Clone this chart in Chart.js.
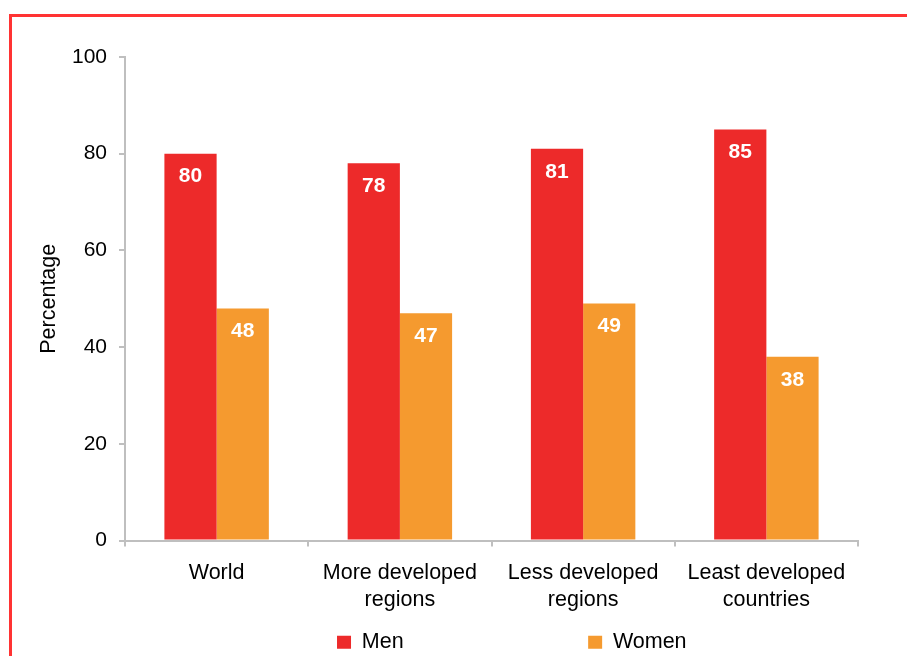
<!DOCTYPE html>
<html><head><meta charset="utf-8">
<script src="https://cdn.jsdelivr.net/npm/chart.js@4"></script>
<style>
html,body{margin:0;padding:0;background:#fff;overflow:hidden;}
#frame{position:absolute;left:9px;top:14px;width:1200px;height:1200px;border-top:3px solid #f33;border-left:3px solid #f33;box-sizing:border-box;}
#wrap{position:absolute;left:0;top:0;width:907px;height:663px;}
</style></head><body>
<div id="frame"></div>
<div id="wrap"><canvas id="c"></canvas></div>
<script>
// ---- data ----
const categories = [["World"], ["More developed", "regions"], ["Less developed", "regions"], ["Least developed", "countries"]];
const seriesNames = ["Men", "Women"];
const menValues = [80, 78, 81, 85];
const womenValues = [48, 47, 49, 38];
const yTickLabels = [0, 20, 40, 60, 80, 100];
const yAxisTitle = "Percentage";

// ---- styles ----
const FONT = '"Liberation Sans", Arial, sans-serif';
const colors = ["#ED2A2A", "#F59A2F"];
const axisColor = "#bfbfbf";
Chart.defaults.font.family = FONT;
Chart.defaults.color = "#000";

const FONT_SIZE = 21.5;
const measureCtx = document.createElement('canvas').getContext('2d');
measureCtx.font = FONT_SIZE + 'px ' + FONT;
function tw(s) { return measureCtx.measureText(s).width; }

const LEGEND_PAD = 10, BOX_W = 14;
const menBoxX = 337, womenBoxX = 588;

function spacerText(width) {
  const sw = tw(' '), hw = tw('\u200A');
  let best = ' ', bestErr = Infinity;
  for (let n = 0; n <= Math.ceil(width / sw) + 1; n++) {
    const rest = width - n * sw;
    let m = 0;
    if (hw > 0.3 && hw < sw && rest > 0) m = Math.round(rest / hw);
    const s = ' '.repeat(n) + '\u200A'.repeat(m);
    if (!s.length) continue;
    const err = Math.abs(tw(s) - width);
    if (err < bestErr) { bestErr = err; best = s; }
  }
  return best;
}
function spacer(text) {
  return { text, fillStyle: 'rgba(0,0,0,0)', strokeStyle: 'rgba(0,0,0,0)', lineWidth: 0, hidden: false, fontColor: 'rgba(0,0,0,0)' };
}

const barValueLabels = {
  id: 'barValueLabels',
  afterDatasetsDraw(chart) {
    const ctx = chart.ctx;
    ctx.save();
    ctx.font = 'bold 21px ' + FONT;
    ctx.fillStyle = '#fff';
    ctx.textAlign = 'center';
    ctx.textBaseline = 'middle';
    chart.data.datasets.forEach((ds, di) => {
      const meta = chart.getDatasetMeta(di);
      meta.data.forEach((bar, i) => {
        ctx.fillText(String(ds.data[i]), bar.x, bar.y + 23);
      });
    });
    ctx.restore();
  }
};

new Chart(document.getElementById('c'), {
  type: 'bar',
  data: {
    labels: categories,
    datasets: [
      { label: seriesNames[0], data: menValues, backgroundColor: colors[0], borderWidth: 0 },
      { label: seriesNames[1], data: womenValues, backgroundColor: colors[1], borderWidth: 0 }
    ]
  },
  plugins: [barValueLabels],
  options: {
    responsive: true,
    maintainAspectRatio: false,
    animation: false,
    datasets: { bar: { categoryPercentage: 0.57, barPercentage: 1.0 } },
    layout: { padding: { left: 0, right: 49, top: 57, bottom: 0 } },
    plugins: {
      tooltip: { enabled: false },
      legend: {
        position: 'bottom',
        align: 'start',
        onClick: () => {},
        labels: {
          font: { size: FONT_SIZE },
          color: '#000',
          boxWidth: BOX_W,
          boxHeight: 13,
          padding: LEGEND_PAD,
          generateLabels(chart) {
            const item = BOX_W + FONT_SIZE / 2;
            const aText = spacerText(menBoxX - LEGEND_PAD - LEGEND_PAD - item);
            const menX = LEGEND_PAD + item + tw(aText) + LEGEND_PAD;
            const bStart = menX + item + tw(seriesNames[0]) + LEGEND_PAD;
            const bText = spacerText(womenBoxX - bStart - LEGEND_PAD - item);
            const real = chart.data.datasets.map((ds, i) => ({
              text: ds.label, fillStyle: ds.backgroundColor, strokeStyle: ds.backgroundColor,
              lineWidth: 0, hidden: !chart.isDatasetVisible(i), datasetIndex: i, fontColor: '#000'
            }));
            return [spacer(aText), real[0], spacer(bText), real[1]];
          }
        }
      }
    },
    scales: {
      x: {
        grid: { display: true, drawOnChartArea: false, drawTicks: true, tickLength: 6, color: axisColor, lineWidth: 2, offset: true },
        border: { display: true, color: axisColor, width: 2 },
        ticks: { font: { size: FONT_SIZE, lineHeight: 1.27 }, color: '#000', padding: 13, maxRotation: 0, autoSkip: false },
        afterFit(s) { s.height = 81; }
      },
      y: {
        min: yTickLabels[0],
        max: yTickLabels[yTickLabels.length - 1],
        ticks: { stepSize: yTickLabels[1] - yTickLabels[0], font: { size: 21 }, color: '#000', padding: 12 },
        grid: { display: true, drawOnChartArea: false, drawTicks: true, tickLength: 6, color: axisColor, lineWidth: 2 },
        border: { display: true, color: axisColor, width: 2 },
        title: { display: true, text: yAxisTitle, font: { size: 21.5 }, color: '#000', padding: { top: 36, bottom: 0 } },
        afterFit(s) { s.width = 125; }
      }
    }
  }
});
</script>
</body></html>
